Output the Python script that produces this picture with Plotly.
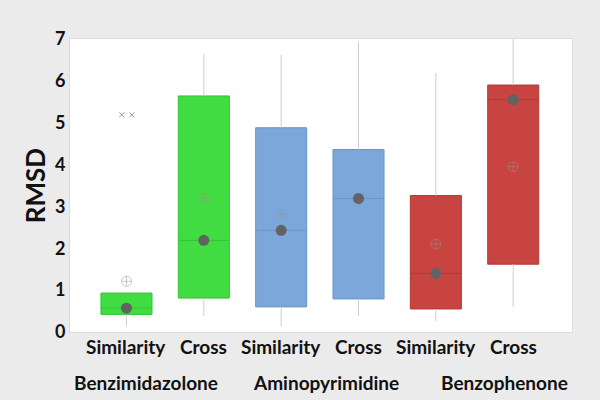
import plotly.graph_objects as go

# ---- data ----
groups = ["Benzimidazolone", "Aminopyrimidine", "Benzophenone"]
methods = ["Similarity", "Cross", "Similarity", "Cross", "Similarity", "Cross"]
q1 = [0.42, 0.81, 0.60, 0.79, 0.55, 1.62]
median = [0.57, 2.19, 2.43, 3.19, 1.40, 5.55]
q3 = [0.93, 5.64, 4.88, 4.36, 3.26, 5.90]
mean = [1.21, 3.19, 2.81, 3.15, 2.10, 3.95]
lower_whisker = [0.14, 0.38, 0.14, 0.38, 0.26, 0.60]
upper_whisker = [0.93, 6.64, 6.62, 6.93, 6.19, 7.00]
outlier_pos = [-0.06, 0.07]
outlier_val = [5.19, 5.19]
fills = ["#41dc41", "#41dc41", "#7ba7da", "#7ba7da", "#c84441", "#c84441"]
edges = ["#36c236", "#36c236", "#6b95c6", "#6b95c6", "#b03a37", "#b03a37"]

xs = list(range(len(methods)))
fig = go.Figure()

# whiskers (outside the box only)
wx, wy = [], []
for i in xs:
    wx += [i, i, None, i, i, None]
    wy += [lower_whisker[i], q1[i], None, q3[i], upper_whisker[i], None]
fig.add_trace(go.Scatter(x=wx, y=wy, mode="lines",
                         line=dict(color="#cfcfcf", width=1),
                         hoverinfo="skip", showlegend=False))

for i in xs:
    fig.add_trace(go.Box(
        x=[i], q1=[q1[i]], median=[median[i]], q3=[q3[i]],
        lowerfence=[q1[i]], upperfence=[q3[i]],
        width=0.66, fillcolor=fills[i],
        line=dict(color=edges[i], width=1),
        whiskerwidth=0, boxpoints=False, showlegend=False))

# mean markers
fig.add_trace(go.Scatter(x=xs, y=mean, mode="markers",
                         marker=dict(symbol="circle-cross-open", size=10,
                                     color="rgba(150,150,150,0.5)",
                                     line=dict(width=1)),
                         showlegend=False))
# median dots
fig.add_trace(go.Scatter(x=xs, y=median, mode="markers",
                         marker=dict(symbol="circle", size=11, color="#626262"),
                         showlegend=False))
# outliers
fig.add_trace(go.Scatter(x=outlier_pos, y=outlier_val, mode="markers",
                         marker=dict(symbol="x-thin", size=5,
                                     line=dict(width=1, color="#9a9a9a")),
                         showlegend=False))

font_fam = "Lato, 'Open Sans', sans-serif"
lab_font = dict(family=font_fam, size=19, color="#111111", weight="bold")
annotations = []
for i, m in zip(xs, methods):
    annotations.append(dict(x=i, y=-0.051, xref="x", yref="paper", text=m,
                            showarrow=False, xanchor="center", yanchor="middle",
                            font=lab_font))
group_x = [0.25, 2.58, 4.89]
for gx, g in zip(group_x, groups):
    annotations.append(dict(x=gx, y=-0.174, xref="x", yref="paper", text=g,
                            showarrow=False, xanchor="center", yanchor="middle",
                            font=lab_font))

fig.update_layout(
    width=600, height=400,
    margin=dict(l=70, r=28, t=39, b=68),
    paper_bgcolor="#ebebeb", plot_bgcolor="#ffffff",
    font=dict(family=font_fam, color="#111111"),
    annotations=annotations,
    xaxis=dict(range=[-0.73, 5.76], showticklabels=False, showgrid=False,
               zeroline=False, showline=True, linecolor="#dcdcdc", mirror=True,
               ticks=""),
    yaxis=dict(range=[0, 7], tickvals=[0, 1, 2, 3, 4, 5, 6, 7],
               showgrid=False, zeroline=False, showline=True,
               linecolor="#dcdcdc", mirror=True, ticks="",
               ticklabelstandoff=0,
               tickfont=dict(family=font_fam, size=18, color="#111111",
                             weight="bold"),
               title=dict(text="RMSD", standoff=1,
                          font=dict(family=font_fam, size=26, color="#111111",
                                    weight="bold"))),
)
fig.write_html("out.html")
